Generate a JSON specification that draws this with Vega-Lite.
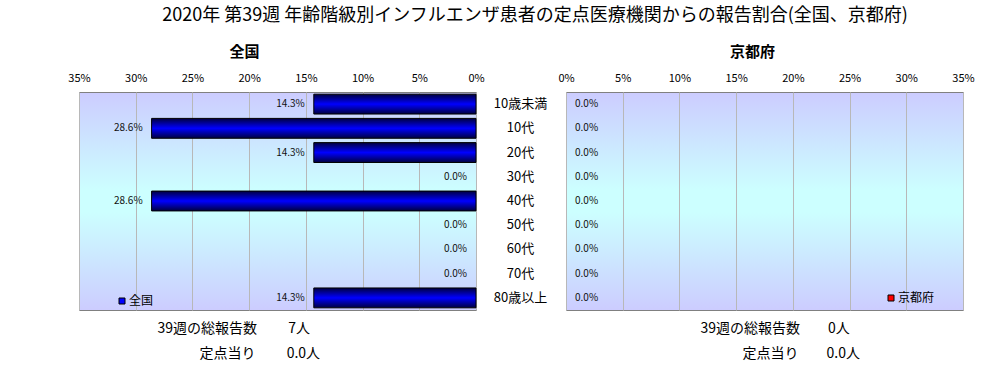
{
  "$schema": "https://vega.github.io/schema/vega-lite/v6.json",
  "padding": {"left": 67, "top": 6, "right": 5, "bottom": 5},
  "background": "white",
  "title": {"text": "2020年 第39週 年齢階級別インフルエンザ患者の定点医療機関からの報告割合(全国、京都府)", "fontSize": 18, "font": "Noto Sans CJK JP", "fontWeight": "normal", "color": "black", "anchor": "middle", "dx": 14, "offset": 20},
  "data": {"values": [
    {"region": "全国", "age": "10歳未満", "pct": 0.143},
    {"region": "全国", "age": "10代", "pct": 0.286},
    {"region": "全国", "age": "20代", "pct": 0.143},
    {"region": "全国", "age": "30代", "pct": 0.0},
    {"region": "全国", "age": "40代", "pct": 0.286},
    {"region": "全国", "age": "50代", "pct": 0.0},
    {"region": "全国", "age": "60代", "pct": 0.0},
    {"region": "全国", "age": "70代", "pct": 0.0},
    {"region": "全国", "age": "80歳以上", "pct": 0.143},
    {"region": "京都府", "age": "10歳未満", "pct": 0.0},
    {"region": "京都府", "age": "10代", "pct": 0.0},
    {"region": "京都府", "age": "20代", "pct": 0.0},
    {"region": "京都府", "age": "30代", "pct": 0.0},
    {"region": "京都府", "age": "40代", "pct": 0.0},
    {"region": "京都府", "age": "50代", "pct": 0.0},
    {"region": "京都府", "age": "60代", "pct": 0.0},
    {"region": "京都府", "age": "70代", "pct": 0.0},
    {"region": "京都府", "age": "80歳以上", "pct": 0.0}
  ]},
  "bounds": "flush",
  "spacing": 90,
  "resolve": {"scale": {"color": "independent", "y": "shared"}},
  "hconcat": [
    {
      "width": 397,
      "height": 218,
      "title": {"text": "全国", "fontSize": 15, "fontWeight": "bold", "font": "Noto Sans CJK JP", "dx": -33, "offset": 12},
      "transform": [{"filter": "datum.region === '全国'"}],
      "encoding": {
        "y": {"field": "age", "type": "nominal", "sort": null,
          "scale": {"paddingInner": 0.18, "paddingOuter": 0.09},
          "axis": {"orient": "right", "title": null, "domain": false, "ticks": false, "labelAlign": "center", "labelPadding": 44, "labelFontSize": 13, "labelColor": "black", "labelFont": "Noto Sans CJK JP"}}
      },
      "resolve": {"axis": {"x": "independent"}},
      "layer": [
        {
          "mark": {"type": "bar", "stroke": "black",
            "fill": {"gradient": "linear", "x1": 0, "y1": 0, "x2": 0, "y2": 1, "stops": [{"offset": 0, "color": "#000040"}, {"offset": 0.5, "color": "#0000ff"}, {"offset": 1, "color": "#000040"}]}},
          "encoding": {
            "x": {"field": "pct", "type": "quantitative",
              "scale": {"domain": [0, 0.35], "reverse": true, "nice": false, "zero": true},
              "axis": {"orient": "top", "title": null, "values": [0, 0.05, 0.1, 0.15, 0.2, 0.25, 0.3, 0.35], "format": ".0%", "domain": false, "ticks": false, "labelPadding": 9, "labelFontSize": 11, "labelFont": "Noto Sans CJK JP", "labelColor": "black", "grid": true, "gridColor": "#b8b8b8", "labelFlush": false}},
            "strokeWidth": {"condition": {"test": "datum.pct > 0", "value": 1}, "value": 0}
          }
        },
        {
          "mark": {"type": "text", "align": "right", "dx": -9, "fontSize": 10, "font": "Noto Sans CJK JP", "color": "#111111"},
          "encoding": {
            "x": {"field": "pct", "type": "quantitative", "axis": null},
            "text": {"field": "pct", "type": "quantitative", "format": ".1%"}
          }
        },
        {
          "mark": {"type": "bar"},
          "encoding": {
            "x": {"datum": 0, "type": "quantitative",
              "axis": {"orient": "bottom", "labels": false, "ticks": false, "domain": false, "grid": false,
                "title": ["39週の総報告数　　 7人", "\u200b　　　定点当り　　 0.0人"],
                "titleFont": "Noto Sans CJK JP", "titleFontSize": 14, "titleFontWeight": "normal", "titleColor": "black",
                "titleAlign": "left", "titleAnchor": "start", "titleBaseline": "top", "titleX": 78, "titleY": 11, "titleLineHeight": 25}},
            "color": {"field": "region", "type": "nominal", "scale": {"domain": ["全国"], "range": ["#0000ff"]},
              "legend": {"orient": "none", "legendX": 37, "legendY": 203, "title": null, "padding": 0, "symbolType": "square", "symbolSize": 36, "symbolStrokeColor": "black", "symbolStrokeWidth": 1, "labelFontSize": 12, "labelFont": "Noto Sans CJK JP", "labelColor": "black", "labelOffset": 1}}
          }
        }
      ]
    },
    {
      "width": 397,
      "height": 218,
      "title": {"text": "京都府", "fontSize": 15, "fontWeight": "bold", "font": "Noto Sans CJK JP", "dx": -12, "offset": 12},
      "transform": [{"filter": "datum.region === '京都府'"}],
      "encoding": {
        "y": {"field": "age", "type": "nominal", "sort": null, "axis": null}
      },
      "resolve": {"axis": {"x": "independent"}},
      "layer": [
        {
          "mark": {"type": "bar", "stroke": "black",
            "fill": {"gradient": "linear", "x1": 0, "y1": 0, "x2": 0, "y2": 1, "stops": [{"offset": 0, "color": "#400000"}, {"offset": 0.5, "color": "#ff0000"}, {"offset": 1, "color": "#400000"}]}},
          "encoding": {
            "x": {"field": "pct", "type": "quantitative",
              "scale": {"domain": [0, 0.35], "nice": false, "zero": true},
              "axis": {"orient": "top", "title": null, "values": [0, 0.05, 0.1, 0.15, 0.2, 0.25, 0.3, 0.35], "format": ".0%", "domain": false, "ticks": false, "labelPadding": 9, "labelFontSize": 11, "labelFont": "Noto Sans CJK JP", "labelColor": "black", "grid": true, "gridColor": "#b8b8b8", "labelFlush": false}},
            "strokeWidth": {"condition": {"test": "datum.pct > 0", "value": 1}, "value": 0}
          }
        },
        {
          "mark": {"type": "text", "align": "left", "dx": 9, "fontSize": 10, "font": "Noto Sans CJK JP", "color": "#111111"},
          "encoding": {
            "x": {"field": "pct", "type": "quantitative", "axis": null},
            "text": {"field": "pct", "type": "quantitative", "format": ".1%"}
          }
        },
        {
          "mark": {"type": "bar"},
          "encoding": {
            "x": {"datum": 0, "type": "quantitative",
              "axis": {"orient": "bottom", "labels": false, "ticks": false, "domain": false, "grid": false,
                "title": ["39週の総報告数　　0人", "\u200b　　　定点当り　　0.0人"],
                "titleFont": "Noto Sans CJK JP", "titleFontSize": 14, "titleFontWeight": "normal", "titleColor": "black",
                "titleAlign": "left", "titleAnchor": "start", "titleBaseline": "top", "titleX": 134, "titleY": 11, "titleLineHeight": 25}},
            "color": {"field": "region", "type": "nominal", "scale": {"domain": ["京都府"], "range": ["#ff0000"]},
              "legend": {"orient": "none", "legendX": 319, "legendY": 200, "title": null, "padding": 0, "symbolType": "square", "symbolSize": 36, "symbolStrokeColor": "black", "symbolStrokeWidth": 1, "labelFontSize": 12, "labelFont": "Noto Sans CJK JP", "labelColor": "black", "labelOffset": 1}}
          }
        }
      ]
    }
  ],
  "config": {
    "view": {"stroke": "#808080", "strokeWidth": 1,
      "fill": {"gradient": "linear", "x1": 0, "y1": 0, "x2": 0, "y2": 1, "stops": [{"offset": 0, "color": "#ccccff"}, {"offset": 0.45, "color": "#ccffff"}, {"offset": 0.55, "color": "#ccffff"}, {"offset": 1, "color": "#ccccff"}]}},
    "axis": {"gridOpacity": 1}
  }
}
